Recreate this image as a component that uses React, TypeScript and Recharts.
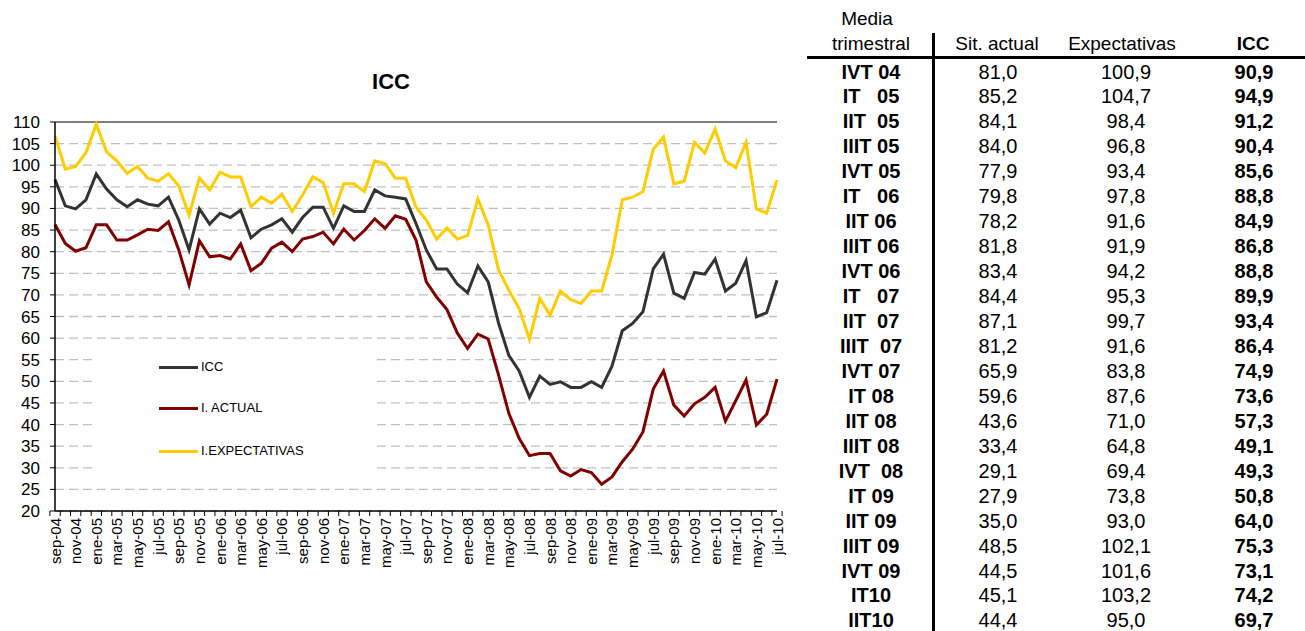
import { LineChart, Line, XAxis, YAxis, CartesianGrid, Legend, ReferenceLine } from 'recharts'

const months = [
  'sep-04', 'oct-04', 'nov-04', 'dic-04',
  'ene-05', 'feb-05', 'mar-05', 'abr-05', 'may-05', 'jun-05', 'jul-05', 'ago-05', 'sep-05', 'oct-05', 'nov-05', 'dic-05',
  'ene-06', 'feb-06', 'mar-06', 'abr-06', 'may-06', 'jun-06', 'jul-06', 'ago-06', 'sep-06', 'oct-06', 'nov-06', 'dic-06',
  'ene-07', 'feb-07', 'mar-07', 'abr-07', 'may-07', 'jun-07', 'jul-07', 'ago-07', 'sep-07', 'oct-07', 'nov-07', 'dic-07',
  'ene-08', 'feb-08', 'mar-08', 'abr-08', 'may-08', 'jun-08', 'jul-08', 'ago-08', 'sep-08', 'oct-08', 'nov-08', 'dic-08',
  'ene-09', 'feb-09', 'mar-09', 'abr-09', 'may-09', 'jun-09', 'jul-09', 'ago-09', 'sep-09', 'oct-09', 'nov-09', 'dic-09',
  'ene-10', 'feb-10', 'mar-10', 'abr-10', 'may-10', 'jun-10', 'jul-10',
]

const icc = [
  96.7, 90.6, 89.9, 92.0, 98.0, 94.5, 92.0, 90.4, 92.0, 91.0,
  90.6, 92.6, 87.3, 80.4, 89.9, 86.4, 88.9, 87.9, 89.6, 83.2,
  85.2, 86.2, 87.6, 84.5, 87.9, 90.3, 90.3, 85.4, 90.6, 89.3,
  89.3, 94.3, 92.9, 92.6, 92.2, 86.5, 80.4, 76.0, 76.0, 72.5,
  70.5, 76.7, 73.0, 63.5, 56.0, 52.4, 46.3, 51.2, 49.3, 49.9,
  48.6, 48.6, 49.9, 48.6, 53.5, 61.7, 63.4, 66.1, 76.0, 79.4,
  70.4, 69.2, 75.2, 74.8, 78.3, 70.9, 72.7, 77.9, 64.9, 65.9,
  73.4,
]

const actual = [
  86.3, 81.9, 80.1, 80.9, 86.2, 86.2, 82.7, 82.7, 83.9, 85.2,
  84.9, 86.9, 80.4, 72.3, 82.5, 78.8, 79.1, 78.3, 81.8, 75.6,
  77.3, 80.8, 82.2, 80.0, 82.9, 83.5, 84.5, 81.8, 85.2, 82.7,
  84.9, 87.6, 85.4, 88.3, 87.5, 82.7, 73.0, 69.5, 66.6, 61.2,
  57.6, 60.9, 59.8, 51.5, 42.6, 36.8, 32.8, 33.3, 33.3, 29.3,
  28.1, 29.6, 28.9, 26.2, 27.9, 31.4, 34.3, 38.3, 48.2, 52.4,
  44.5, 42.0, 44.8, 46.3, 48.6, 40.8, 45.5, 50.3, 39.9, 42.4,
  50.5,
]

const expectativas = [
  106.8, 99.1, 99.7, 102.9, 109.5, 103.1, 101.0, 98.1, 99.7, 97.0,
  96.3, 98.0, 95.2, 88.4, 97.0, 94.3, 98.4, 97.3, 97.3, 90.4,
  92.6, 91.2, 93.3, 89.3, 93.1, 97.3, 96.0, 88.9, 95.7, 95.7,
  93.9, 101.0, 100.4, 97.0, 97.0, 90.3, 87.3, 82.9, 85.5, 82.9,
  83.7, 92.2, 86.2, 75.8, 71.1, 66.9, 59.7, 69.2, 65.3, 70.9,
  68.9, 68.0, 70.9, 70.9, 79.2, 92.0, 92.6, 93.9, 103.7, 106.5,
  95.7, 96.3, 105.3, 102.8, 108.4, 101.0, 99.4, 105.3, 89.9, 88.9,
  96.6,
]

const yTicks = [20, 25, 30, 35, 40, 45, 50, 55, 60, 65, 70, 75, 80, 85, 90, 95, 100, 105, 110]

// quarterly table
const quarters = [
  'IVT 04', 'IT   05', 'IIT  05', 'IIIT 05', 'IVT 05', 'IT   06', 'IIT 06', 'IIIT 06', 'IVT 06',
  'IT   07', 'IIT  07', 'IIIT  07', 'IVT 07', 'IT 08', 'IIT 08', 'IIIT 08', 'IVT  08', 'IT 09',
  'IIT 09', 'IIIT 09', 'IVT 09', 'IT10', 'IIT10',
]
const qActual = [81.0, 85.2, 84.1, 84.0, 77.9, 79.8, 78.2, 81.8, 83.4, 84.4, 87.1, 81.2, 65.9, 59.6, 43.6, 33.4, 29.1, 27.9, 35.0, 48.5, 44.5, 45.1, 44.4]
const qExpect = [100.9, 104.7, 98.4, 96.8, 93.4, 97.8, 91.6, 91.9, 94.2, 95.3, 99.7, 91.6, 83.8, 87.6, 71.0, 64.8, 69.4, 73.8, 93.0, 102.1, 101.6, 103.2, 95.0]
const qIcc = [90.9, 94.9, 91.2, 90.4, 85.6, 88.8, 84.9, 86.8, 88.8, 89.9, 93.4, 86.4, 74.9, 73.6, 57.3, 49.1, 49.3, 50.8, 64.0, 75.3, 73.1, 74.2, 69.7]

const series = [
  { key: 'icc', name: 'ICC', color: '#333333' },
  { key: 'actual', name: 'I. ACTUAL', color: '#800000' },
  { key: 'expect', name: 'I.EXPECTATIVAS', color: '#FFCC00' },
]

const data = months.map((m, i) => ({ month: m, icc: icc[i], actual: actual[i], expect: expectativas[i] }))

const FONT = '"Liberation Sans", Arial, sans-serif'
const PLOT_W = 722
const step = PLOT_W / months.length

const fmt = (v: number) => v.toFixed(1).replace('.', ',')

function XTick(props: any) {
  const { x, y, payload } = props
  const idx = payload.index
  return (
    <g>
      <line x1={x - step / 2} x2={x - step / 2} y1={y} y2={y + 5} stroke="#000" />
      {idx === months.length - 1 && <line x1={x + step / 2} x2={x + step / 2} y1={y} y2={y + 5} stroke="#000" />}
      {idx % 2 === 0 && (
        <text
          x={x}
          y={y + 7}
          transform={`rotate(-90, ${x}, ${y + 7})`}
          textAnchor="end"
          dominantBaseline="central"
          fontSize={15}
          fontFamily={FONT}
          fill="#000"
        >
          {payload.value}
        </text>
      )}
    </g>
  )
}

function LegendBox(props: any) {
  const items = [...(props.payload || [])].sort(
    (a: any, b: any) => series.findIndex(s => s.key === a.dataKey) - series.findIndex(s => s.key === b.dataKey)
  )
  const rows = [24, 65, 108]
  return (
    <div style={{ width: 284, height: 134, background: '#fff', position: 'relative' }}>
      {items.map((p: any, i: number) => (
        <div key={p.dataKey}>
          <div style={{ position: 'absolute', left: 66, top: rows[i] - 1.5, width: 39, height: 3, background: p.color }} />
          <div style={{ position: 'absolute', left: 108, top: rows[i] - 8, fontSize: 13, lineHeight: '16px', fontFamily: FONT, color: '#000' }}>
            {p.value}
          </div>
        </div>
      ))}
    </div>
  )
}

export default function App() {
  const rowY0 = 71.5
  const rowH = 24.95
  const cell = (text: string, cx: number, cy: number, bold = false, size = 20) => (
    <div
      style={{
        position: 'absolute', left: cx - 80, top: cy - 12, width: 160, textAlign: 'center',
        fontSize: size, lineHeight: '24px', fontWeight: bold ? 'bold' : 'normal', whiteSpace: 'pre', fontFamily: FONT, color: '#000',
      }}
    >
      {text}
    </div>
  )

  return (
    <div style={{ position: 'absolute', left: 0, top: 0, width: 1305, height: 631, background: '#fff', fontFamily: FONT, overflow: 'hidden' }}>
      <div style={{ position: 'absolute', left: 331, top: 68, width: 120, textAlign: 'center', fontSize: 22, fontWeight: 'bold', lineHeight: '28px' }}>
        ICC
      </div>
      <div style={{ position: 'absolute', left: 0, top: 0 }}>
        <LineChart width={790} height={631} data={data} margin={{ top: 122, right: 13, bottom: 50, left: 0 }}>
          <CartesianGrid vertical={false} stroke="#c0c0c0" strokeDasharray="9 5" strokeWidth={1.3} />
          <XAxis
            dataKey="month"
            interval={0}
            height={70}
            tick={<XTick />}
            tickLine={false}
            tickSize={0}
            tickMargin={0}
            axisLine={{ stroke: '#000', strokeWidth: 1.5 }}
          />
          <YAxis
            domain={[20, 110]}
            ticks={yTicks}
            width={55}
            interval={0}
            tickSize={5}
            tickMargin={10}
            tick={{ fontSize: 17, fontFamily: FONT, fill: '#000' }}
            tickLine={{ stroke: '#000' }}
            axisLine={{ stroke: '#000', strokeWidth: 1.5 }}
          />
          <YAxis yAxisId="r" orientation="right" domain={[20, 110]} width={0} tick={false} tickLine={false} axisLine={{ stroke: '#808080', strokeWidth: 2 }} />
          <ReferenceLine y={110} stroke="#808080" strokeWidth={2} />
          <Legend
            layout="vertical"
            align="center"
            verticalAlign="middle"
            content={<LegendBox />}
            wrapperStyle={{ left: 93, top: 343, width: 284, height: 134 }}
          />
          {series.map(s => (
            <Line
              key={s.key}
              type="linear"
              dataKey={s.key}
              name={s.name}
              stroke={s.color}
              strokeWidth={3}
              dot={false}
              isAnimationActive={false}
            />
          ))}
        </LineChart>
      </div>

      {/* table */}
      {cell('Media', 867, 19, false, 19)}
      {cell('trimestral', 871, 44, false, 19)}
      {cell('Sit. actual', 997, 44, false, 19)}
      {cell('Expectativas', 1122, 44, false, 19)}
      {cell('ICC', 1253, 44, true, 19)}
      <div style={{ position: 'absolute', left: 932, top: 33, width: 2.5, height: 598, background: '#000' }} />
      <div style={{ position: 'absolute', left: 807, top: 56, width: 498, height: 3, background: '#000' }} />
      {quarters.map((q, i) => {
        const cy = rowY0 + i * rowH
        return (
          <div key={q + i}>
            {cell(q, 871, cy, true)}
            {cell(fmt(qActual[i]), 998, cy)}
            {cell(fmt(qExpect[i]), 1126, cy)}
            {cell(fmt(qIcc[i]), 1254, cy, true)}
          </div>
        )
      })}
    </div>
  )
}
